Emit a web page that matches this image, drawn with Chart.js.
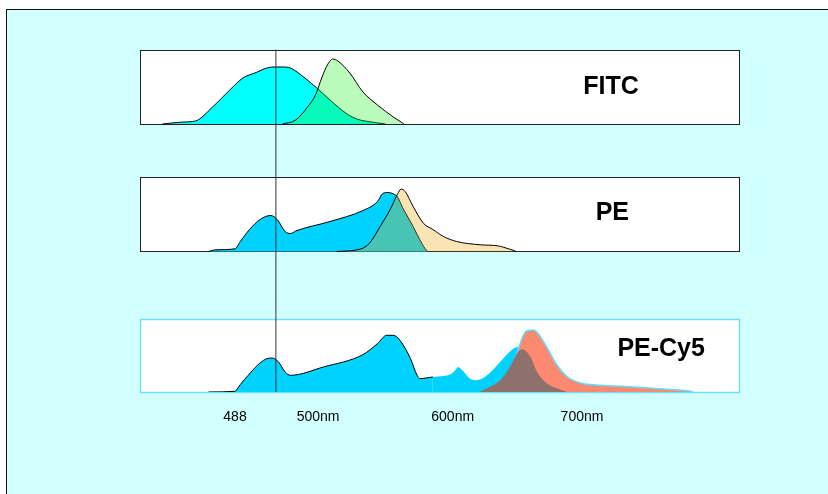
<!DOCTYPE html>
<html>
<head>
<meta charset="utf-8">
<script src="https://cdn.jsdelivr.net/npm/chart.js@4.4.1/dist/chart.umd.min.js"></script>
<style>
  html, body { margin: 0; padding: 0; background: #fff; }
  #frame { position: absolute; left: 6px; top: 9px; width: 840px; height: 500px;
           background: #d2ffff; border-left: 1px solid #111; border-top: 1px solid #111; }
  #wrap { position: absolute; left: 0; top: 0; width: 828px; height: 494px; }
</style>
</head>
<body>
<div id="frame"></div>
<div id="wrap"><canvas id="myChart" width="828" height="494"></canvas></div>
<script>
// Eje x (longitud de onda, nm) y etiquetas
const tickValues = [437, 500, 602, 700];
const tickLabels = ['488', '500nm', '600nm', '700nm'];
const laserLine = 468;
const panelNames = ['FITC', 'PE', 'PE-Cy5'];

// Espectros: [nm, intensidad relativa]
const fitcEx = [[382,0],[398,2],[407,3],[420,17],[433,34],[443,46],[454,52],[460,55.5],[466,57],[474,57],[479,56],[484,52],[499,36],[509,24],[522,10],[530,4.7],[539,2.3],[551,0]];
const fitcEm = [[473,0],[483,4],[492,17],[498,29],[503,47],[507,59],[511,65],[515,63],[524,51],[534,32],[545,19],[557,7],[564,1],[565,0]];

const peEx = [[417,0],[422,1.7],[437,2.7],[441,10],[448,22],[456,32],[464,36],[469,32],[475,20],[479,18],[484,21],[509,30],[534,41],[545,50],[549,58],[553,59],[558,57],[560,55],[564,44],[572,25],[577,12],[581,3],[583,0]];
const peEm = [[514,0],[532,2.4],[539,8.4],[547,25],[555,43],[560,57],[563,62.4],[566,60],[572,45],[580,28],[587,22],[595,15],[605,10],[623,6.7],[636,5.7],[645,2.4],[649,0.7],[650,0]];

const cy5Ex = [[417,0],[437,0.7],[438.5,2.7],[441,7.4],[447,16.7],[454,26.7],[460,32.7],[465,34],[470,30],[475,20],[479,16.7],[504,25],[534,37.4],[545,48.4],[552,56.7],[557,56.7],[562,51.7],[570,33.4],[575,16.7],[577,13.4],[587,15],[600,17.4],[604,21.7],[606,25],[610,20.7],[615,13.4],[620,11.7],[628,16.7],[638,30],[645,40],[651,45],[657,40],[664,28],[672,12],[683,3],[695,0]];
const cy5Em = [[624,0],[625,0.7],[638,5],[645,17],[651,40],[655,55],[658,61],[663,62],[667,58],[674,43],[681,27],[689,15],[699,9],[714,6.7],[739,5],[764,2.7],[782,0.7],[784,0]];
const cy5Overlap = [[622,0],[630,5],[638,11.7],[643,20],[648,31.7],[651.5,40],[654.5,42.7],[661,35],[666,20],[673.5,8.4],[683,2.7],[689,0]];

// Disposicion de los paneles (unidades del eje y)
const panelBase = [268, 140.5, 0];
const panelHeight = [74.5, 74.5, 73];
const panelBorder = ['#222', '#222', '#6fe0ff'];
const titleX = [722, 723, 760];
const titleY = [37, 38, 43];

function shift(serie, panel) {
    return serie.map(p => ({ x: p[0], y: panelBase[panel] + p[1] }));
}

function curva(serie, panel, fondo, borde, orden, extra) {
    return Object.assign({
        data: shift(serie, panel),
        backgroundColor: fondo,
        borderColor: borde,
        borderWidth: 1,
        pointRadius: 0,
        cubicInterpolationMode: 'monotone',
        fill: { value: panelBase[panel] },
        order: orden
    }, extra || {});
}

const datasets = [
    curva(fitcEx, 0, '#00ffff', '#000', 9),
    curva(fitcEm, 0, 'rgba(28,238,28,0.3)', '#000', 8),
    curva(peEx, 1, '#00d2ff', '#000', 7),
    curva(peEm, 1, 'rgba(240,165,10,0.3)', '#000', 6),
    curva(cy5Ex, 2, '#00d2ff', '#000', 5, {
        segment: { borderColor: c => c.p0.parsed.x >= 578 ? 'rgba(0,0,0,0)' : '#000' }
    }),
    curva(cy5Em, 2, '#ff8870', '#5fdcff', 4, { borderWidth: 1.5 }),
    curva(cy5Overlap, 2, '#8e706c', 'rgba(0,0,0,0)', 3),
    {
        data: [{ x: laserLine, y: 0 }, { x: laserLine, y: panelBase[0] + panelHeight[0] }],
        borderColor: '#333',
        borderWidth: 1,
        pointRadius: 0,
        fill: false,
        order: 0
    }
];

// Fondo blanco, bordes y titulos de cada panel
const paneles = {
    id: 'paneles',
    beforeDraw(chart) {
        const { ctx, chartArea, scales: { y } } = chart;
        ctx.save();
        panelBase.forEach((b, i) => {
            const top = Math.round(y.getPixelForValue(b + panelHeight[i]));
            const bot = Math.round(y.getPixelForValue(b));
            ctx.fillStyle = '#fff';
            ctx.fillRect(chartArea.left, top, chartArea.right - chartArea.left, bot - top);
            ctx.strokeStyle = panelBorder[i];
            ctx.lineWidth = i == 2 ? 1.5 : 1;
            ctx.strokeRect(chartArea.left + 0.5, top + 0.5, chartArea.right - chartArea.left, bot - top);
        });
        ctx.restore();
    },
    afterDatasetsDraw(chart) {
        const { ctx, scales: { x, y } } = chart;
        ctx.save();
        ctx.fillStyle = '#000';
        ctx.font = "bold 25px Arial, 'Liberation Sans', sans-serif";
        ctx.textAlign = 'center';
        ctx.textBaseline = 'middle';
        panelNames.forEach((t, i) => {
            ctx.fillText(t, x.getPixelForValue(titleX[i]), y.getPixelForValue(panelBase[i] + titleY[i]));
        });
        ctx.restore();
    }
};

const config = {
    type: 'line',
    data: { datasets },
    options: {
        responsive: false,
        animation: false,
        layout: { padding: { left: 140, right: 89, top: 49, bottom: 0 } },
        plugins: { legend: { display: false }, tooltip: { enabled: false } },
        scales: {
            x: {
                type: 'linear',
                min: 365,
                max: 819,
                grid: { display: false, drawTicks: false },
                border: { display: false },
                afterFit: s => { s.height = 102; },
                afterBuildTicks: s => { s.ticks = tickValues.map(v => ({ value: v })); },
                ticks: {
                    autoSkip: false,
                    maxRotation: 0,
                    padding: 17,
                    color: '#000',
                    font: { family: "Arial, 'Liberation Sans', sans-serif", size: 14 },
                    callback: (v, i) => tickLabels[i]
                }
            },
            y: { display: false, min: 0, max: 343 }
        }
    },
    plugins: [paneles]
};

new Chart(document.querySelector('#myChart'), config);
</script>
</body>
</html>
